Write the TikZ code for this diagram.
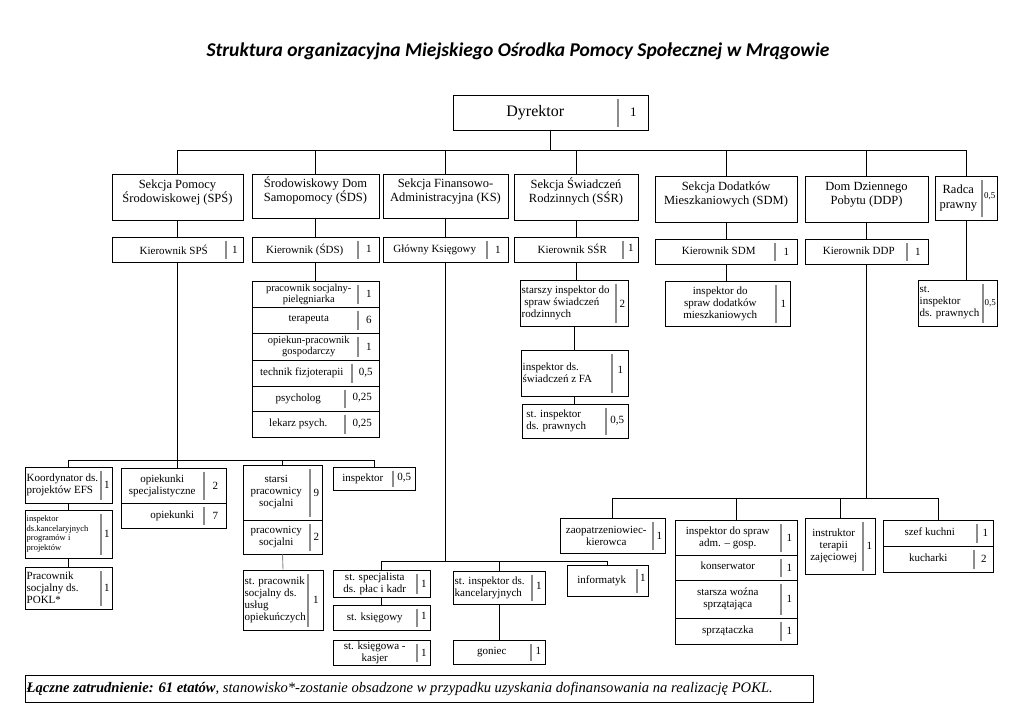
\documentclass[tikz,border=0pt]{standalone}
\usepackage{fontspec}
\setmainfont{Liberation Serif}
\newfontfamily\titlefont{Carlito}
\usetikzlibrary{fit,calc}

% box with a divider and the number of posts
\newcommand{\unit}[7][]{%
  \node[box, fit={#3 #4}] (#2) {};
  \coordinate (#2d) at (#5,0);
  \draw[divider] ([yshift=-4pt]#2.north -| #2d) -- ([yshift=4pt]#2.south -| #2d);
  \node[txt, #1] at ($(#2.west)!0.5!(#2.west -| #2d)$) {#6};
  \node[num] at ($(#2.east)!0.5!(#2.east -| #2d)$) {#7};
}
% same, text set from the left edge
\newcommand{\unitl}[7][]{%
  \node[box, fit={#3 #4}] (#2) {};
  \coordinate (#2d) at (#5,0);
  \draw[divider] ([yshift=-4pt]#2.north -| #2d) -- ([yshift=4pt]#2.south -| #2d);
  \node[txt, align=left, anchor=west, #1] at ([xshift=2pt]#2.west) {#6};
  \node[num] at ($(#2.east)!0.5!(#2.east -| #2d)$) {#7};
}
\newcommand{\sm}[1]{{\fontsize{9}{10}\selectfont #1}}

\begin{document}
\begin{tikzpicture}[x=1pt, y=-1pt,
	box/.style={draw, line width=1pt, inner sep=0pt},
	txt/.style={align=center, inner sep=0pt, font=\fontsize{11}{12}\selectfont},
	small/.style={font=\fontsize{10.5}{11}\selectfont},
	tiny/.style={font=\fontsize{8.5}{9.5}\selectfont},
	sect/.style={align=center, font=\fontsize{12.5}{14.5}\selectfont},
	num/.style={inner sep=0pt, font=\fontsize{11}{12}\selectfont},
	divider/.style={black!45, line width=1.2pt},
	link/.style={line width=0.9pt}]
	\useasboundingbox (0,0) rectangle (1024,724);

	\node[font=\titlefont\bfseries\itshape\fontsize{19.5}{22}\selectfont] (title) at (518,51)
		{Struktura organizacyjna Miejskiego Ośrodka Pomocy Społecznej w Mrągowie};

	\unit[font=\fontsize{16}{18}\selectfont]{dyr}{(453,95)}{(648,130)}{618}{Dyrektor}{\raisebox{-5pt}{\fontsize{13}{14}\selectfont 1}}

	% sections
	\node[box, sect, fit={(112,174) (243,220)}] (sps) {Sekcja Pomocy\\Środowiskowej (SPŚ)};
	\node[box, sect, fit={(252,174) (379,218)}] (sds) {Środowiskowy Dom\\Samopomocy (ŚDS)};
	\node[box, sect, fit={(383,174) (508,218)}] (ks) {Sekcja Finansowo-\\Administracyjna (KS)};
	\node[box, sect, fit={(514,174) (638,220)}] (ssr) {Sekcja Świadczeń\\Rodzinnych (SŚR)};
	\node[box, sect, fit={(655,176) (797,222)}] (sdm) {Sekcja Dodatków\\Mieszkaniowych (SDM)};
	\node[box, sect, fit={(805,176) (928,222)}] (ddp) {Dom Dziennego\\Pobytu (DDP)};
	\unit[sect]{radca}{(935,176)}{(997,220)}{982}{Radca\\prawny}{\raisebox{5pt}{\sm{0,5}}}

	\coordinate (bus1) at (0,150);
	\draw[link] (dyr.south) -- (dyr.south |- bus1);
	\draw[link] (sps.north) |- (radca.north |- bus1) -- (radca.north);
	\foreach \s in {sds,ks,ssr,sdm,ddp}
		\draw[link] (\s.north) -- (\s.north |- bus1);

	% heads
	\unit[xshift=5pt]{ksps}{(112,237)}{(243,262)}{226}{Kierownik SPŚ}{1}
	\unit{ksds}{(252,237)}{(379,262)}{358}{\raisebox{2pt}{Kierownik (ŚDS)}}{\raisebox{2pt}{1}}
	\unit{gk}{(383,237)}{(508,262)}{487}{Główny Księgowy}{1}
	\unit[xshift=4pt]{kssr}{(514,237)}{(638,262)}{623}{\raisebox{2pt}{Kierownik SŚR}}{\raisebox{4pt}{1}}
	\unit[xshift=4pt]{ksdm}{(655,239)}{(797,264)}{775}{\raisebox{2pt}{Kierownik SDM}}{1}
	\unit[xshift=3pt]{kddp}{(805,239)}{(928,264)}{907}{\raisebox{2pt}{Kierownik DDP}}{1}
	\foreach \a/\b in {sps/ksps,sds/ksds,ks/gk,ssr/kssr,sdm/ksdm,ddp/kddp}
		\draw[link] (\a.south) -- (\b.north);

	% radca
	\unitl{rins}{(918,280)}{(997,326)}{983}{st.\\inspektor\\ds. prawnych}{\sm{0,5}}
	\draw[link] (radca.south) -- (radca.south |- rins.north);

	% SDS
	\unit[small, xshift=4pt]{s1}{(252,281)}{(379,307)}{358}{pracownik socjalny-\\pielęgniarka}{1}
	\unit[xshift=4pt]{s2}{(252,307)}{(379,333)}{358}{terapeuta}{6}
	\unit[small, xshift=4pt]{s3}{(252,333)}{(379,360)}{358}{opiekun-pracownik\\gospodarczy}{1}
	\unit{s4}{(252,360)}{(379,386)}{352}{technik fizjoterapii}{0,5}
	\unit{s5}{(252,386)}{(379,411)}{345}{psycholog}{\raisebox{3pt}{0,25}}
	\unit{s6}{(252,411)}{(379,437)}{345}{lekarz psych.}{\raisebox{3pt}{0,25}}
	\draw[link] (ksds.south) -- (s1.north);

	% SSR
	\unitl{r1}{(520,280)}{(628,326)}{616}{starszy inspektor do\\\ spraw świadczeń\\rodzinnych}{\raisebox{-8pt}{2}}
	\unitl{r2}{(521,350)}{(628,396)}{612}{inspektor ds.\\świadczeń z FA}{\raisebox{6pt}{1}}
	\unitl{r3}{(522,404)}{(628,438)}{606}{\ st. inspektor\\\ ds. prawnych}{0,5}
	\draw[link] (kssr.south) -- (kssr.south |- r1.north);
	\draw[link] (r1.south) -- (r1.south |- r2.north);
	\draw[link] (r2.south) -- (r2.south |- r3.north);

	% SDM
	\unit{d1}{(665,281)}{(790,326)}{776}{inspektor do\\spraw dodatków\\mieszkaniowych}{1}
	\draw[link] (ksdm.south) -- (ksdm.south |- d1.north);

	% SPS staff
	\unitl{k1}{(25,467)}{(112,503)}{101}{Koordynator ds.\\projektów EFS}{1}
	\unitl[tiny]{k2}{(25,510)}{(112,558)}{101}{inspektor\\ds.kancelaryjnych\\programów i\\projektów}{1}
	\unitl{k3}{(25,567)}{(112,609)}{101}{Pracownik\\socjalny ds.\\POKL*}{1}
	\unit{o1}{(121,468)}{(226,503)}{204}{opiekunki\\specjalistyczne}{2}
	\unit{o2}{(121,503)}{(226,528)}{204}{\hspace{20pt}opiekunki}{7}
	\unit{p1}{(243,465)}{(322,520)}{310}{starsi\\pracownicy\\socjalni}{9}
	\unit{p2}{(243,520)}{(322,554)}{310}{pracownicy\\socjalni}{2}
	\unitl{p3}{(243,570)}{(323,630)}{308}{st. pracownik\\socjalny ds.\\usług\\opiekuńczych}{1}
	\unit{i1}{(333,467)}{(415,490)}{393}{inspektor}{\raisebox{3pt}{0,5}}
	\coordinate (bus2) at (0,460);
	\draw[link] (ksps.south) -- (ksps.south |- o1.north);
	\draw[link] (k1.north) |- (i1.north |- bus2) -- (i1.north);
	\draw[link] (p1.north) -- (p1.north |- bus2);
	\draw[link] (k1.south) -- (k2.north);
	\draw[link] (k2.south) -- (k3.north);
	\draw[link, black!45] (p2.south) -- (p3.north);

	% KS staff
	\unit{f1}{(333,570)}{(430,597)}{417}{st. specjalista\\ds. płac i kadr}{1}
	\unit{f2}{(333,605)}{(430,630)}{417}{st. księgowy}{\raisebox{3pt}{1}}
	\unit{f3}{(333,640)}{(430,665)}{417}{st. księgowa -\\kasjer}{1}
	\unitl{f4}{(453,571)}{(545,604)}{532}{st. inspektor ds.\\kancelaryjnych}{\raisebox{4pt}{1}}
	\unit{f5}{(453,640)}{(545,664)}{531}{goniec}{\raisebox{3pt}{1}}
	\unit{inf}{(567,565)}{(648,596)}{637}{informatyk}{\raisebox{5pt}{1}}
	\coordinate (bus3) at (0,561);
	\draw[link] (gk.south) -- (gk.south |- bus3);
	\draw[link] (f1.north) |- (inf.north |- bus3) -- (inf.north);
	\draw[link] (f4.north) -- (f4.north |- bus3);
	\draw[link] (f1.south) -- (f2.north);
	\draw[link] (f4.south) -- (f5.north);

	% DDP staff
	\unit{z1}{(560,518)}{(665,553)}{653}{zaopatrzeniowiec-\\kierowca}{1}
	\unit{a1}{(675,520)}{(797,555)}{781}{inspektor do spraw\\adm. – gosp.}{1}
	\unit{a2}{(675,555)}{(797,580)}{781}{\raisebox{4pt}{konserwator}}{1}
	\unit{a3}{(675,580)}{(797,618)}{781}{starsza woźna\\sprzątająca}{1}
	\unit{a4}{(675,618)}{(797,644)}{781}{\raisebox{3pt}{sprzątaczka}}{1}
	\unit{t1}{(805,518)}{(875,574)}{863}{instruktor\\terapii\\zajęciowej}{1}
	\unit{sk1}{(883,520)}{(993,546)}{977}{\raisebox{3pt}{szef kuchni}}{1}
	\unit{sk2}{(883,546)}{(993,572)}{974}{\raisebox{3pt}{kucharki}}{2}
	\coordinate (bus4) at (0,498);
	\draw[link] (kddp.south) -- (kddp.south |- bus4);
	\draw[link] (z1.north) |- (sk1.north |- bus4) -- (sk1.north);
	\foreach \s in {a1,t1}
		\draw[link] (\s.north) -- (\s.north |- bus4);

	% footer
	\node[box, fit={(25,675) (813,702)}] (foot) {};
	\node[anchor=west, inner sep=0pt, font=\itshape\fontsize{14.6}{16}\selectfont] (foottxt) at ([xshift=2pt]foot.west)
		{\textbf{Łączne zatrudnienie: 61 etatów}, stanowisko*-zostanie obsadzone w przypadku uzyskania dofinansowania na realizację POKL.};
\end{tikzpicture}
\end{document}
